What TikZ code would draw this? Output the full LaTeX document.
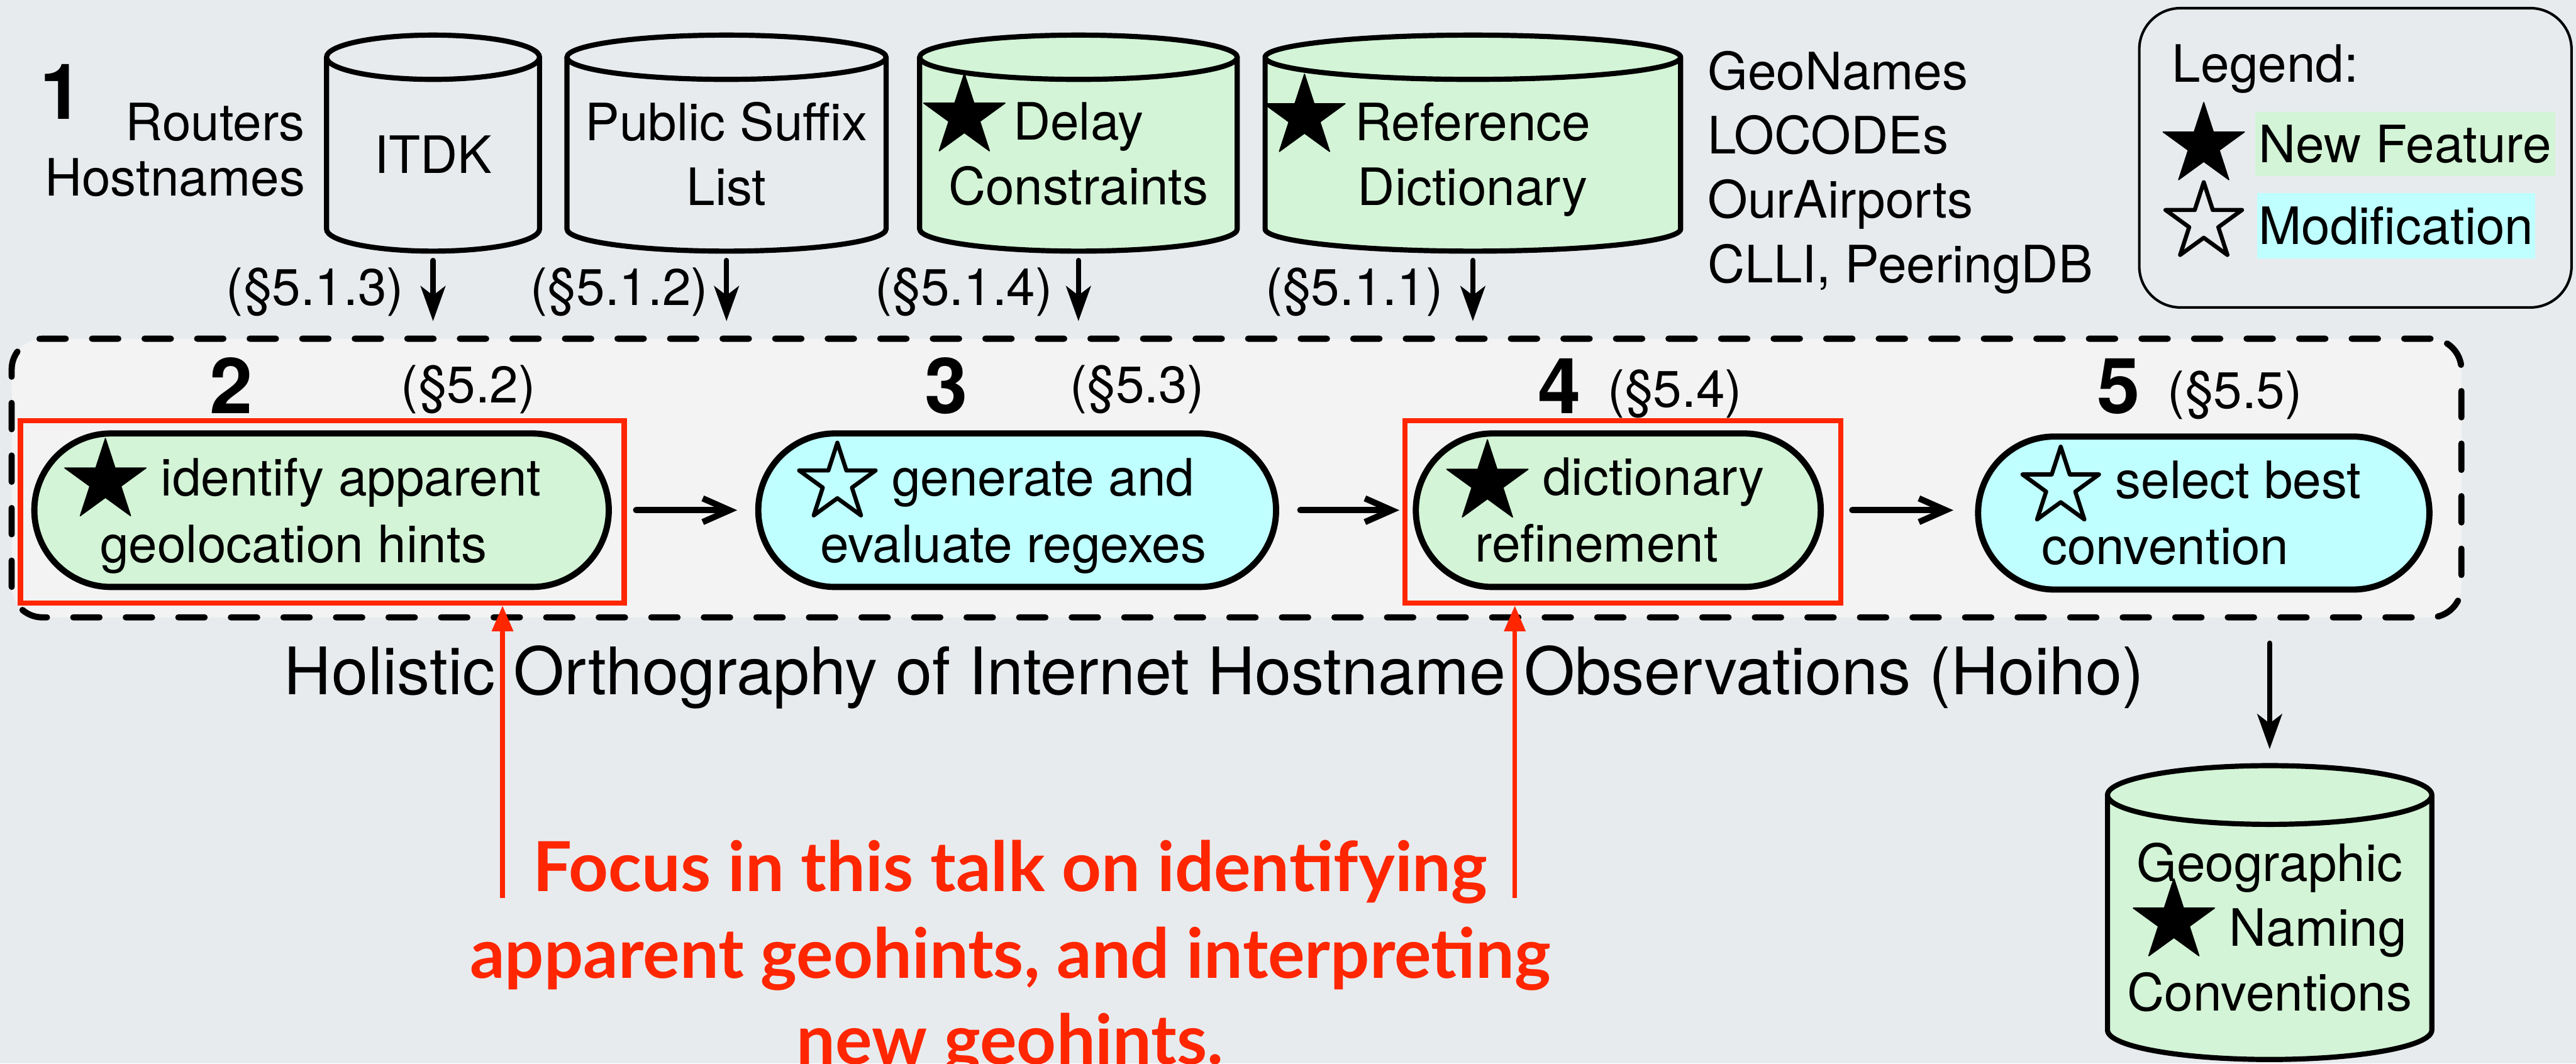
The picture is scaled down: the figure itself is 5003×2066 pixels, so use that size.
\documentclass[tikz,border=0pt]{standalone}
\usepackage{fontspec}
\setmainfont{TeX Gyre Heros}
\newfontfamily\gillfont{Lato}
\usetikzlibrary{shapes.geometric,arrows.meta,calc}
\pgfdeclarelayer{bgl}
\pgfsetlayers{bgl,main}

\definecolor{bgc}{RGB}{231,235,238}
\definecolor{panelc}{RGB}{243,243,243}
\definecolor{newc}{RGB}{211,244,214}
\definecolor{modc}{RGB}{191,255,255}
\definecolor{hlred}{RGB}{255,38,0}

\tikzset{
  starbase/.style={star, star points=5, star point ratio=2.618, inner sep=0pt, anchor=center, solid, sharp corners, align=center},
  fstarsty/.style={starbase, minimum size=16.6mm, fill=black, draw=black, line width=0.2mm, line join=round},
  ostarsty/.style={starbase, minimum size=15.6mm, fill=none, draw=black, line width=0.8mm, line join=round},
  txt/.style={inner sep=0pt, font=\fontsize{28.45pt}{35.85pt}\selectfont},
  cylnode/.style={inner sep=0pt, align=center, font=\fontsize{28.45pt}{35.85pt}\selectfont},
  cylline/.style={draw=black, line width=1mm},
  stage/.style={draw=black, line width=1.2mm, rounded corners=14.9mm, inner sep=0pt, align=center,
    font=\fontsize{28.45pt}{36.7pt}\selectfont, minimum height=29.8mm},
  numsty/.style={inner sep=0pt, font=\fontsize{42.7pt}{50pt}\selectfont\bfseries},
  flowarrow/.style={line width=1.2mm, line cap=round, -{Straight Barb[length=5.2mm, width=4.6mm, line cap=butt, line join=miter]}},
  smallarrow/.style={line width=1mm, line cap=round, -{Stealth[length=6.8mm, width=4.8mm, inset=1.8mm]}},
  redarrow/.style={draw=hlred, line width=0.9mm, -{Triangle[length=5mm, width=4mm]}},
  redbox/.style={draw=hlred, line width=1mm, inner sep=0pt},
  redtxt/.style={inner sep=0pt, text=hlred, font=\gillfont\bfseries\fontsize{38.1pt}{47.5pt}\selectfont},
}

\newcommand\fstar[1]{\smash{\raisebox{#1}{\tikz[baseline=(isx.center)]\node[fstarsty](isx){};}}}
\newcommand\ostar[1]{\smash{\raisebox{#1}{\tikz[baseline=(isx.center)]\node[ostarsty](isx){};}}}
\newcommand\nd[1]{\raisebox{0pt}[\height][0pt]{#1}}
\newcommand\cylshape[3]{%
  \draw[cylline, fill=#2] let \p1=(#1.north west), \p2=(#1.south east), \n1={(\x2-\x1)/2} in
    (\x1,\y1) -- (\x1,{\y2+#3}) arc[start angle=180, end angle=360, x radius=\n1, y radius=#3]
    -- (\x2,\y1) arc[start angle=0, end angle=180, x radius=\n1, y radius=#3] -- cycle
    ({\x1+\n1},\y1) ellipse[x radius=\n1, y radius=#3];
}

\begin{document}
\begin{tikzpicture}[x=0.01cm, y=-0.01cm]
\useasboundingbox (0,0) rectangle (5003,2066);
\clip (0,0) rectangle (5003,2066);
\begin{pgfonlayer}{bgl}
  \fill[bgc] (0,0) rectangle (5003,2066);
\end{pgfonlayer}

% pipeline panel
\node[draw=black, fill=panelc, line width=1.2mm, dash pattern=on 5.1mm off 5.1mm, line cap=round,
  rounded corners=6mm, minimum width=475.5mm, minimum height=54.1mm, inner sep=0pt] (hoiho) at (2401.5,928.5) {};

% legend
\node[draw=black, line width=0.5mm, rounded corners=8mm, minimum width=83.9mm, minimum height=58.1mm, inner sep=0pt] (legbox) at (4574.5,306.5) {};
\node[txt, anchor=base west] (leg) at (4218,160) {Legend:};
\node[fstarsty] (ls1) at (4280,282) {};
\node[ostarsty] (ls2) at (4280,432) {};
\node[txt, fill=newc, minimum width=58.2mm, minimum height=12.4mm] (lnew) at (4671,280) {New Feature};
\node[txt, fill=modc, minimum width=53.9mm, minimum height=12.7mm] (lmod) at (4653.5,438.5) {Modification};

% inputs
\node[txt, align=right, anchor=north east, font=\fontsize{28.45pt}{30.73pt}\selectfont] (rh) at (593,199) {Routers\\Hostnames};
\node[numsty, anchor=base west] (num1) at (77,232) {1};
\node[cylnode, minimum width=41.2mm, minimum height=37.5mm] (itdk) at (841,299.5) {ITDK};
\node[cylnode, minimum width=61.8mm, minimum height=37.5mm] (psl) at (1411,299.5) {Public Suffix\\List};
\node[cylnode, minimum width=61.5mm, minimum height=37.5mm] (delay) at (2094.5,299.5) {\llap{\fstar{4.6mm}\hspace{1.5mm}}Delay\\Constraints};
\node[cylnode, minimum width=80.5mm, minimum height=37.5mm] (refd) at (2860.5,299.5) {\llap{\fstar{4.6mm}\hspace{1.8mm}}Reference\\\nd{Dictionary}};
\node[txt, align=left, anchor=north west, font=\fontsize{28.45pt}{35.57pt}\selectfont] (src) at (3316,98) {GeoNames\\LOCODEs\\OurAirports\\CLLI, PeeringDB};

% output
\node[cylnode, minimum width=62.8mm, minimum height=51.2mm, font=\fontsize{28.45pt}{35.7pt}\selectfont] (outc) at (4408,1801) {Geographic\\\fstar{4.8mm} Naming\\Conventions};

\begin{pgfonlayer}{bgl}
  \cylshape{itdk}{bgc}{4.3mm}
  \cylshape{psl}{bgc}{4.3mm}
  \cylshape{delay}{newc}{4.3mm}
  \cylshape{refd}{newc}{4.3mm}
  \cylshape{outc}{newc}{5.7mm}
\end{pgfonlayer}

% section labels for inputs
\node[txt, anchor=base east] (s513) at (785,593) {(§5.1.3)};
\node[txt, anchor=base east] (s512) at (1376,593) {(§5.1.2)};
\node[txt, anchor=base east] (s514) at (2045,593) {(§5.1.4)};
\node[txt, anchor=base east] (s511) at (2803,593) {(§5.1.1)};

% red focus boxes
\node[redbox, minimum width=117.2mm, minimum height=35.4mm] (r2) at (626,994) {};
\node[redbox, minimum width=84.6mm, minimum height=35.4mm] (r4) at (3152,994) {};

% stages
\node[stage, fill=newc, minimum width=111.5mm] (n2) at (624.5,991) {\fstar{2.85mm} identify apparent\kern7.3mm\\\nd{geolocation hints}\kern10.9mm};
\node[stage, fill=modc, minimum width=100.5mm] (n3) at (1975.5,991) {\ostar{2.5mm} generate and\kern8.3mm\\\nd{evaluate regexes}\kern1.5mm};
\node[stage, fill=newc, minimum width=78.6mm] (n4) at (3143,991) {\fstar{2.5mm} dictionary\kern5mm\\refinement\kern8.4mm};
\node[stage, fill=modc, minimum width=87.6mm, minimum height=29.7mm, rounded corners=14.85mm] (n5) at (4280,996.5) {\ostar{2.2mm} select best\kern5mm\\convention\kern15mm};

\node[numsty, anchor=base west] (num2) at (407,803) {2};
\node[numsty, anchor=base west] (num3) at (1796,803) {3};
\node[numsty, anchor=base west] (num4) at (2986,803) {4};
\node[numsty, anchor=base west] (num5) at (4072,803) {5};
\node[txt, anchor=base east] (s52) at (1041,782) {(§5.2)};
\node[txt, anchor=base east] (s53) at (2340,782) {(§5.3)};
\node[txt, anchor=base east] (s54) at (3384,791) {(§5.4)};
\node[txt, anchor=base east] (s55) at (4472,793) {(§5.5)};

% connectors
\draw[smallarrow, shorten <=1.8mm, shorten >=2.8mm] (itdk.south) -- (itdk.south |- hoiho.north);
\draw[smallarrow, shorten <=1.8mm, shorten >=2.8mm] (psl.south) -- (psl.south |- hoiho.north);
\draw[smallarrow, shorten <=1.8mm, shorten >=2.8mm] (delay.south) -- (delay.south |- hoiho.north);
\draw[smallarrow, shorten <=1.8mm, shorten >=2.8mm] (refd.south) -- (refd.south |- hoiho.north);
\draw[flowarrow, shorten <=4.7mm, shorten >=3.5mm] (n2.east) -- (n3.west);
\draw[flowarrow, shorten <=4.1mm, shorten >=2.6mm] (n3.east) -- (n4.west);
\draw[flowarrow, shorten <=5.5mm, shorten >=4.2mm] (n4.east) -- (n4.east -| n5.west);
\draw[smallarrow, shorten <=4.4mm, shorten >=8.9mm] (hoiho.south -| outc.north) -- (outc.north);

% title
\node[txt, anchor=base, font=\fontsize{36.2pt}{42pt}\selectfont] (title) at (2358,1349) {Holistic Orthography of Internet Hostname Observations (Hoiho)};

% focus note
\node[redtxt, anchor=base] (f1) at (1962,1731) {Focus in this talk on identifying};
\node[redtxt, anchor=base] (f2) at (1962,1900) {apparent geohints, and interpreting};
\node[redtxt, anchor=base] (f3) at (1962,2067) {new geohints.};
\coordinate (rl1) at (976,1744);
\coordinate (rl2) at (2942,1744);
\draw[redarrow] (rl1) -- (rl1 |- r2.south);
\draw[redarrow] (rl2) -- (rl2 |- r4.south);
\end{tikzpicture}
\end{document}
